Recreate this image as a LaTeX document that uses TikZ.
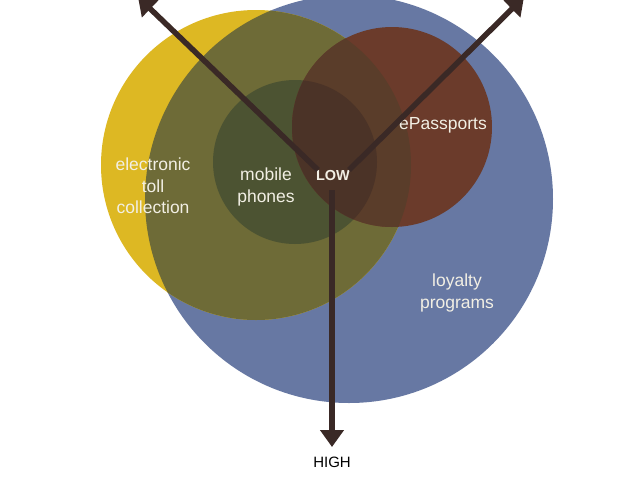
\documentclass[tikz,border=0pt]{standalone}
\usepackage{fontspec}
\setmainfont{Liberation Sans}
\usetikzlibrary{arrows.meta}
\definecolor{cblue}{HTML}{6778A3}
\definecolor{cyellow}{HTML}{DDB823}
\definecolor{colive}{HTML}{6E6B37}
\definecolor{cgreen}{HTML}{4C5332}
\definecolor{cbrown}{HTML}{6B3B2B}
\definecolor{cbrownolive}{HTML}{5A3D2A}
\definecolor{cbrowngreen}{HTML}{4B3327}
\definecolor{carrow}{HTML}{3A2926}
\definecolor{ctext}{HTML}{F2EFE4}
\begin{document}
\begin{tikzpicture}[x=1pt,y=-1pt,
  lbl/.style={text=ctext,font=\fontsize{17.5}{21.5}\selectfont,align=center,inner sep=0pt},
  axis/.style={draw=carrow,line width=5.5pt,-{Triangle[width=23pt,length=17pt]}}]
\useasboundingbox (0,0) rectangle (640,480);
\fill[white] (0,0) rectangle (640,480);
% circles
\fill[cblue] (349,199) circle (204);
\fill[cyellow] (256,165) circle (155);
\begin{scope}
  \clip (256,165) circle (155);
  \fill[colive] (349,199) circle (204);
\end{scope}
\fill[cgreen] (295,162) circle (82);
\fill[cbrown] (392,127) circle (100);
\begin{scope}
  \clip (392,127) circle (100);
  \fill[cbrownolive] (256,165) circle (155);
  \fill[cbrowngreen] (295,162) circle (82);
\end{scope}
% labels
\node[lbl] (etc) at (153,186) {electronic\\toll\\collection};
\node[lbl] (mob) at (266,187) {mobile\\phones};
\node[lbl] (epa) at (443,125) {ePassports};
\node[lbl] (loy) at (457,293) {loyalty\\programs};
\node[text=ctext,font=\bfseries\fontsize{14.5}{16}\selectfont,inner sep=0pt] (low) at (333,176) {LOW};
\node[text=black,font=\fontsize{15}{16}\selectfont,inner sep=0pt] (high) at (332,462) {HIGH};
% axes
\coordinate (ulstart) at (318,170);
\coordinate (urstart) at (349,170);
\coordinate (dstart) at (332,190);
\coordinate (ultip) at (138,-3);
\coordinate (urtip) at (524,-3);
\coordinate (dtip) at (332,447);
\draw[axis] (ulstart) -- (ultip);
\draw[axis] (urstart) -- (urtip);
\draw[axis] (dstart) -- (dtip);
\end{tikzpicture}
\end{document}
